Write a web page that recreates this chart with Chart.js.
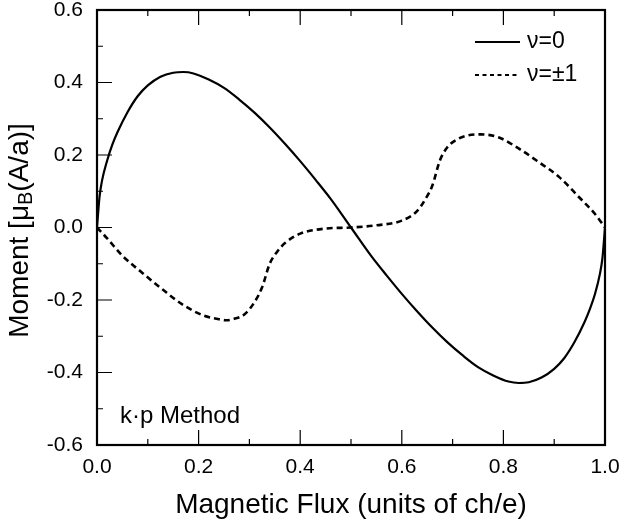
<!DOCTYPE html>
<html lang="en">
<head>
    <meta charset="UTF-8">
    <title>Moment vs Magnetic Flux</title>
    <script src="https://cdn.jsdelivr.net/npm/chart.js"></script>
    <style>
        body { margin: 0; background: #fff; }
        canvas { display: block; }
    </style>
</head>
<body>
    <canvas id="momentChart" width="619" height="524"></canvas>
    <script>
        // nu = 0 curve (solid)
        const fluxNu0 = [0, 0.005, 0.01, 0.02, 0.03, 0.04, 0.06, 0.08, 0.10, 0.125, 0.15, 0.17, 0.19, 0.22, 0.25, 0.28, 0.31, 0.34, 0.37, 0.40, 0.43, 0.46, 0.50,
                         0.54, 0.57, 0.60, 0.63, 0.66, 0.69, 0.72, 0.75, 0.78, 0.81, 0.83, 0.85, 0.875, 0.90, 0.92, 0.94, 0.96, 0.97, 0.98, 0.99, 0.995, 1.0];
        const momentNu0 = [0, 0.085, 0.130, 0.185, 0.228, 0.262, 0.318, 0.362, 0.392, 0.416, 0.427, 0.429, 0.425, 0.408, 0.385, 0.353, 0.317, 0.276, 0.231, 0.183, 0.132, 0.079, 0.0,
                           -0.079, -0.132, -0.183, -0.231, -0.276, -0.317, -0.353, -0.385, -0.408, -0.425, -0.429, -0.427, -0.414, -0.390, -0.360, -0.316, -0.260, -0.226, -0.185, -0.128, -0.084, 0];

        // nu = +-1 curve (dashed)
        const fluxNu1 = [0, 0.02, 0.05, 0.09, 0.13, 0.17, 0.21, 0.24, 0.255, 0.27, 0.29, 0.31, 0.325, 0.34, 0.355, 0.37, 0.40, 0.45, 0.50,
                         0.55, 0.60, 0.63, 0.645, 0.66, 0.675, 0.69, 0.71, 0.73, 0.755, 0.79, 0.83, 0.87, 0.91, 0.95, 0.98, 1.0];
        const momentNu1 = [0, -0.030, -0.078, -0.126, -0.172, -0.214, -0.243, -0.253, -0.256, -0.252, -0.240, -0.206, -0.165, -0.100, -0.066, -0.043, -0.017, -0.003, 0,
                           0.006, 0.019, 0.045, 0.075, 0.115, 0.185, 0.222, 0.244, 0.254, 0.257, 0.249, 0.218, 0.180, 0.139, 0.082, 0.038, 0];

        const xTickValues = [0, 0.2, 0.4, 0.6, 0.8, 1.0];
        const xMinorValues = [0.1, 0.3, 0.5, 0.7, 0.9];
        const yTickValues = [-0.6, -0.4, -0.2, 0, 0.2, 0.4, 0.6];
        const yMinorValues = [-0.5, -0.3, -0.1, 0.1, 0.3, 0.5];

        const FONT = "'Liberation Sans', Arial, Helvetica, sans-serif";

        function toPoints(xs, ys) {
            return xs.map((x, i) => ({ x: x, y: ys[i] }));
        }

        // ticks pointing into the plot, frame, legend, labels
        const decorations = {
            id: 'decorations',
            afterDatasetsDraw(chart) {
                const ctx = chart.ctx;
                const a = chart.chartArea;
                const xs = chart.scales.x, ys = chart.scales.y;
                ctx.save();
                ctx.strokeStyle = '#000';
                ctx.lineWidth = 1.2;
                ctx.beginPath();
                xTickValues.concat(xMinorValues).forEach(v => {
                    const len = xTickValues.includes(v) ? 15 : 6;
                    const px = xs.getPixelForValue(v);
                    ctx.moveTo(px, a.bottom); ctx.lineTo(px, a.bottom - len);
                    ctx.moveTo(px, a.top); ctx.lineTo(px, a.top + len);
                });
                yTickValues.concat(yMinorValues).forEach(v => {
                    const len = yTickValues.includes(v) ? 15 : 6;
                    const py = ys.getPixelForValue(v);
                    ctx.moveTo(a.left, py); ctx.lineTo(a.left + len, py);
                });
                ctx.stroke();

                // frame
                ctx.lineWidth = 2.2;
                ctx.strokeRect(a.left, a.top, a.right - a.left, a.bottom - a.top);

                // legend
                ctx.fillStyle = '#000';
                ctx.font = '23px ' + FONT;
                ctx.textBaseline = 'middle';
                chart.data.datasets.forEach((ds, i) => {
                    const yy = a.top + 32 + i * 33;
                    ctx.beginPath();
                    ctx.lineWidth = 2;
                    ctx.setLineDash(i === 0 ? [] : [4, 3.5]);
                    ctx.moveTo(a.right - 130, yy);
                    ctx.lineTo(a.right - (i === 0 ? 85 : 88), yy);
                    ctx.stroke();
                    ctx.setLineDash([]);
                    ctx.fillText(ds.label, a.right - 78, yy);
                });

                // method note
                ctx.font = '24px ' + FONT;
                ctx.fillText('k\u00B7p Method', a.left + 23, a.bottom - 29);

                // y-axis title with subscript
                ctx.translate(20, (a.top + a.bottom) / 2 + 3);
                ctx.rotate(-Math.PI / 2);
                const big = '28px ' + FONT, small = '20px ' + FONT;
                const parts = [['Moment [\u03BC', big, 0], ['B', small, 6], ['(A/a)]', big, 0]];
                let total = 0;
                parts.forEach(p => { ctx.font = p[1]; total += ctx.measureText(p[0]).width; });
                let cx = -total / 2;
                ctx.textAlign = 'left';
                parts.forEach(p => {
                    ctx.font = p[1];
                    ctx.fillText(p[0], cx, p[2]);
                    cx += ctx.measureText(p[0]).width;
                });
                ctx.restore();
            }
        };

        const ctx = document.getElementById('momentChart').getContext('2d');
        new Chart(ctx, {
            type: 'line',
            data: {
                datasets: [{
                    label: '\u03BD=0',
                    data: toPoints(fluxNu0, momentNu0),
                    borderColor: '#000',
                    borderWidth: 2.2,
                    pointRadius: 0,
                    cubicInterpolationMode: 'monotone',
                    fill: false
                }, {
                    label: '\u03BD=\u00B11',
                    data: toPoints(fluxNu1, momentNu1),
                    borderColor: '#000',
                    borderWidth: 2.6,
                    borderDash: [6, 4],
                    pointRadius: 0,
                    cubicInterpolationMode: 'monotone',
                    fill: false
                }]
            },
            options: {
                responsive: false,
                animation: false,
                devicePixelRatio: 1,
                layout: { padding: { top: 10, right: 14, left: 0, bottom: 0 } },
                plugins: { legend: { display: false }, tooltip: { enabled: false } },
                scales: {
                    x: {
                        type: 'linear',
                        min: 0, max: 1,
                        afterBuildTicks: s => { s.ticks = xTickValues.map(v => ({ value: v })); },
                        afterFit: s => { s.height = 79; s.paddingLeft = 0; s.paddingRight = 0; },
                        grid: { display: false, drawTicks: false },
                        border: { display: false },
                        ticks: {
                            autoSkip: false, maxRotation: 0, padding: 10,
                            color: '#000',
                            font: { family: FONT, size: 21 },
                            callback: v => v.toFixed(1)
                        },
                        title: {
                            display: true,
                            text: 'Magnetic Flux (units of ch/e)',
                            color: '#000',
                            font: { family: FONT, size: 28 },
                            padding: { top: 0, bottom: 2 }
                        }
                    },
                    y: {
                        type: 'linear',
                        min: -0.6, max: 0.6,
                        afterBuildTicks: s => { s.ticks = yTickValues.map(v => ({ value: v })); },
                        afterFit: s => { s.width = 97; s.paddingTop = 0; s.paddingBottom = 0; },
                        grid: { display: false, drawTicks: false },
                        border: { display: false },
                        ticks: {
                            padding: 14,
                            color: '#000',
                            font: { family: FONT, size: 21 },
                            callback: v => v.toFixed(1)
                        }
                    }
                }
            },
            plugins: [decorations]
        });
    </script>
</body>
</html>
